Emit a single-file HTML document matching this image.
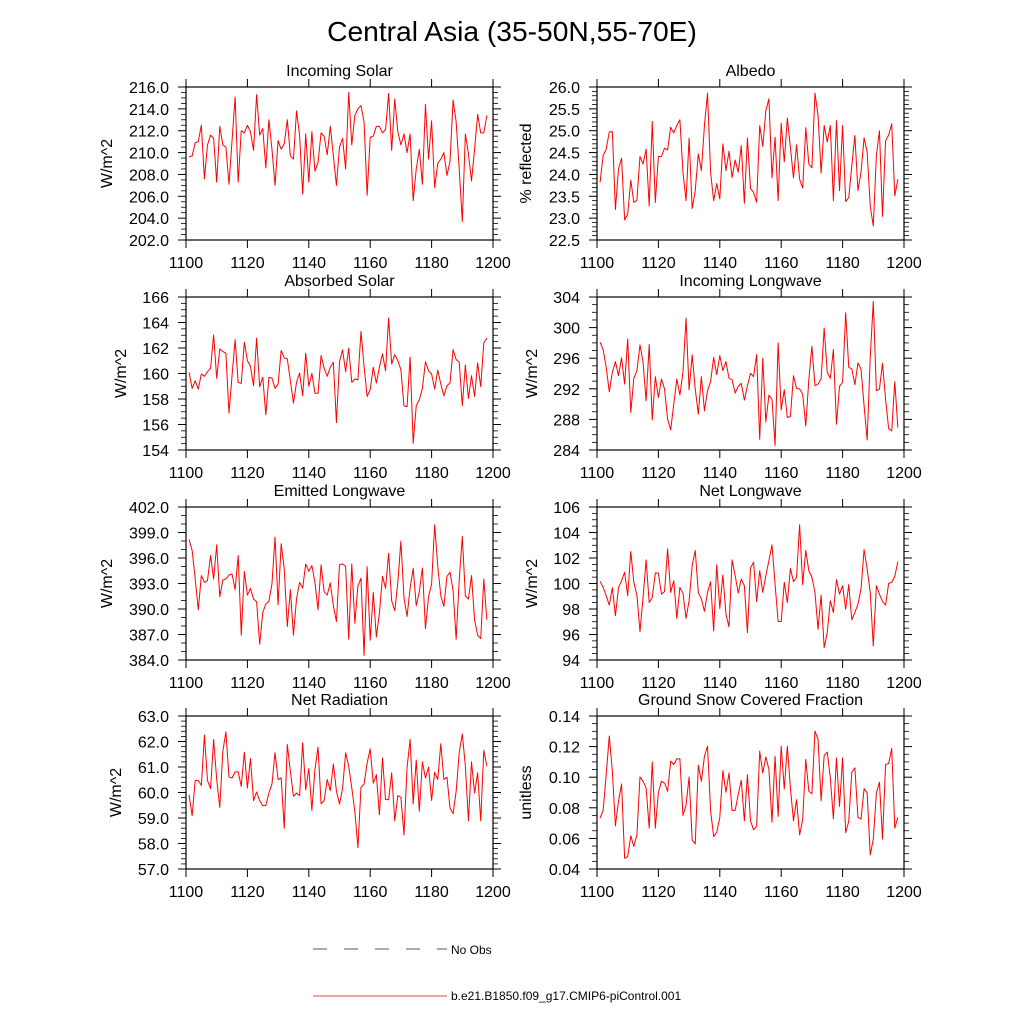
<!DOCTYPE html>
<html><head><meta charset="utf-8"><style>
html,body{margin:0;padding:0;background:#fff;}
svg{display:block;font-family:"Liberation Sans",sans-serif;}
</style></head><body>
<svg id="chart" width="1024" height="1024" viewBox="0 0 1024 1024" xmlns="http://www.w3.org/2000/svg">
<text x="512" y="41" text-anchor="middle" font-size="28.2">Central Asia (35-50N,55-70E)</text>
<g>
<line x1="313" y1="949" x2="447" y2="949" stroke="#555" stroke-width="1" stroke-dasharray="14,17"/>
<text x="451" y="954" font-size="12">No Obs</text>
<line x1="313" y1="996" x2="447" y2="996" stroke="#e00" stroke-width="0.8"/>
<text x="451" y="1000" font-size="12">b.e21.B1850.f09_g17.CMIP6-piControl.001</text>
</g>
</svg>
<script>
const startYear = 1101;
const xTicks = [1100,1120,1140,1160,1180,1200];
const incomingSolar = [209.6,209.7,210.9,211.0,212.5,207.6,210.7,211.6,211.3,207.3,212.4,210.7,210.5,207.1,211.1,215.1,207.3,212.0,211.8,212.5,211.9,210.2,215.3,211.6,212.2,208.6,213.0,210.3,207.0,211.1,210.3,210.8,213.0,209.7,209.4,213.8,211.6,206.2,211.7,207.3,211.9,208.3,209.1,211.8,211.5,209.8,212.4,209.7,207.0,210.5,211.3,208.5,215.5,210.7,213.4,214.0,214.3,212.8,206.1,211.4,211.5,212.4,212.4,211.8,212.1,215.4,210.2,214.9,211.9,210.7,211.7,210.0,211.7,205.6,208.5,210.3,207.1,214.4,209.4,212.9,206.8,209.0,209.4,210.0,207.9,209.2,214.8,212.8,208.5,203.7,211.7,209.9,207.4,210.3,213.5,211.8,211.8,213.4];
const albedo = [23.82,24.43,24.58,24.97,24.98,23.20,24.12,24.37,22.96,23.09,23.87,23.36,23.41,24.41,24.24,24.58,23.28,25.21,23.36,24.41,24.41,24.60,24.56,25.08,24.95,25.12,25.25,24.05,23.40,24.83,23.22,23.63,24.47,24.09,25.12,25.86,24.05,23.40,23.79,23.44,24.70,24.09,24.53,23.93,24.33,24.05,24.66,23.34,24.83,23.68,23.59,23.36,25.12,24.64,25.46,25.73,23.92,24.85,23.40,25.17,24.29,25.29,24.62,23.92,24.68,23.89,23.69,25.07,24.24,24.15,25.86,25.35,24.03,25.12,24.74,25.12,23.40,25.23,23.63,25.12,23.38,23.47,24.20,24.89,23.63,24.05,24.84,24.51,23.28,22.82,24.43,25.00,23.04,24.77,24.90,25.16,23.51,23.89];
const absorbedSolar = [160.09,158.83,159.43,158.78,159.96,159.78,160.14,160.41,163.03,159.62,161.93,161.72,161.59,156.89,159.83,162.66,159.30,159.22,162.45,161.01,160.56,159.04,162.77,158.96,159.70,156.76,159.70,159.64,158.83,159.17,161.80,161.22,161.14,159.43,157.68,159.30,160.04,158.25,161.59,158.99,160.01,158.46,158.44,161.40,160.41,159.78,160.49,160.88,156.15,160.93,161.85,160.14,161.98,159.30,159.57,159.51,163.30,160.56,158.20,158.73,160.49,159.25,160.49,161.54,160.22,164.35,160.75,161.48,161.01,160.30,157.47,157.39,161.27,154.52,157.47,157.94,158.83,160.93,160.22,159.96,158.78,160.27,159.17,158.25,159.04,159.25,161.88,161.09,160.88,157.47,160.67,158.04,159.83,158.20,160.83,158.96,162.40,162.77];
const incomingLW = [298.09,297.13,294.81,291.61,294.15,295.55,293.72,296.04,292.62,298.53,288.90,293.37,294.37,297.74,295.47,290.43,297.79,287.94,293.58,290.87,293.28,291.97,288.03,286.63,289.99,293.28,291.18,294.15,301.24,291.88,296.43,291.97,288.68,293.58,289.12,291.75,292.93,296.12,293.85,296.34,294.37,295.55,293.37,293.19,291.44,292.32,292.71,290.52,292.40,294.02,293.58,296.47,285.40,295.99,287.68,291.18,290.65,284.61,298.00,289.25,291.88,288.25,288.38,293.72,292.05,291.97,291.31,287.15,293.19,297.57,292.40,292.62,293.28,299.93,294.15,293.37,297.13,287.37,292.32,292.84,301.94,294.81,294.59,292.53,295.38,294.59,289.78,285.31,296.12,303.43,291.75,291.97,295.33,290.65,286.80,286.49,292.93,286.93];
const emittedLW = [398.18,396.88,393.53,389.91,393.93,393.14,393.34,396.29,393.53,397.55,391.44,393.41,393.53,394.00,394.12,392.27,396.29,386.92,394.40,391.64,392.43,391.17,390.85,385.85,389.59,390.58,390.89,392.94,398.46,390.50,397.67,394.71,387.94,392.27,386.92,391.17,393.14,392.47,395.30,394.44,395.11,393.14,389.91,395.19,392.04,391.64,393.06,390.38,388.53,395.19,395.30,395.03,386.44,395.30,388.33,392.74,393.61,384.55,394.99,386.32,391.96,386.72,389.48,393.85,392.43,396.56,390.97,389.79,393.14,397.98,391.37,389.12,392.43,394.79,390.38,392.04,394.83,387.70,391.44,392.94,399.91,395.03,391.56,390.30,393.85,394.32,392.15,386.44,393.45,398.53,391.56,391.17,393.93,388.73,386.92,386.52,393.53,388.73];
const netLW = [100.17,99.70,99.04,98.31,99.67,97.47,99.67,100.22,100.88,99.04,102.51,100.09,99.09,96.23,98.91,101.85,98.51,98.91,100.83,100.80,99.17,99.36,102.72,99.30,100.22,97.26,99.70,99.25,97.26,98.65,101.40,102.59,99.30,98.78,97.81,99.30,100.14,96.28,101.46,98.04,100.67,97.60,96.60,101.85,100.62,99.25,100.35,99.83,96.15,101.22,101.67,98.57,101.01,99.30,100.62,101.80,103.03,99.96,97.02,97.02,100.09,98.51,101.19,100.14,100.49,104.61,99.91,102.59,101.01,100.49,99.30,96.41,99.09,94.97,96.15,98.65,97.73,100.30,99.17,99.83,97.99,99.91,97.15,97.73,98.38,99.57,102.66,101.14,99.30,95.10,99.83,99.17,98.59,98.31,100.01,100.09,100.56,101.72];
const netRad = [59.91,59.09,60.47,60.47,60.28,62.25,60.47,60.15,62.08,60.51,59.42,61.62,62.38,60.61,60.57,60.81,60.81,60.24,61.58,60.18,61.33,59.68,60.02,59.68,59.48,59.49,59.98,60.33,61.56,60.51,60.57,58.60,61.88,60.83,59.85,59.98,59.88,61.95,60.11,60.94,59.30,60.90,61.78,59.56,59.68,60.51,60.07,61.12,60.05,59.55,60.15,61.56,61.03,60.18,59.26,57.84,60.20,60.33,61.16,61.71,60.37,60.70,59.13,61.36,59.72,59.72,60.77,58.89,59.88,59.81,58.34,60.97,62.08,59.55,61.27,59.26,61.20,60.57,60.99,59.69,60.79,60.51,61.91,60.51,60.60,59.39,59.17,60.05,61.56,62.30,61.03,58.89,61.20,59.98,60.77,58.89,61.65,61.03];
const snowFrac = [0.0733,0.0783,0.1017,0.1269,0.1039,0.0682,0.0842,0.0956,0.0470,0.0481,0.0617,0.0547,0.0623,0.1002,0.0973,0.0930,0.0667,0.1100,0.0667,0.0901,0.0973,0.0962,0.0908,0.1105,0.1083,0.1120,0.1120,0.0750,0.0816,0.1002,0.0590,0.0564,0.1078,0.0973,0.1137,0.1203,0.0781,0.0612,0.0641,0.0737,0.1043,0.0901,0.1028,0.0783,0.0783,0.0886,0.0980,0.0715,0.1017,0.0715,0.0656,0.0678,0.1170,0.1028,0.1133,0.1050,0.0706,0.1137,0.0744,0.1203,0.0923,0.1203,0.0930,0.0715,0.0853,0.0623,0.0722,0.1116,0.0908,0.0892,0.1302,0.1247,0.0846,0.1142,0.1164,0.0995,0.0728,0.1126,0.0809,0.1126,0.0638,0.0711,0.1032,0.1061,0.0737,0.0726,0.0925,0.0897,0.0492,0.0595,0.0897,0.0967,0.0595,0.1083,0.1089,0.1188,0.0667,0.0737];
const yTicks1 = ["202.0","204.0","206.0","208.0","210.0","212.0","214.0","216.0"];
const yTicks2 = ["22.5","23.0","23.5","24.0","24.5","25.0","25.5","26.0"];
const yTicks3 = ["154","156","158","160","162","164","166"];
const yTicks4 = ["284","288","292","296","300","304"];
const yTicks5 = ["384.0","387.0","390.0","393.0","396.0","399.0","402.0"];
const yTicks6 = ["94","96","98","100","102","104","106"];
const yTicks7 = ["57.0","58.0","59.0","60.0","61.0","62.0","63.0"];
const yTicks8 = ["0.04","0.06","0.08","0.10","0.12","0.14"];

const NS = "http://www.w3.org/2000/svg";
const svg = document.getElementById('chart');
function mk(tag, attrs, parent){const e=document.createElementNS(NS,tag);for(const k in attrs)e.setAttribute(k,attrs[k]);parent.appendChild(e);return e;}

const panels = [
 {name:'incoming-solar',title:'Incoming Solar',ylab:'W/m^2',data:incomingSolar,ticks:yTicks1,minor:4,x0:186,x1:493,y0:87,y1:240,lx:112},
 {name:'albedo',title:'Albedo',ylab:'% reflected',data:albedo,ticks:yTicks2,minor:5,x0:597,x1:904,y0:87,y1:240,lx:531},
 {name:'absorbed-solar',title:'Absorbed Solar',ylab:'W/m^2',data:absorbedSolar,ticks:yTicks3,minor:4,x0:186,x1:493,y0:297,y1:450,lx:126},
 {name:'incoming-longwave',title:'Incoming Longwave',ylab:'W/m^2',data:incomingLW,ticks:yTicks4,minor:4,x0:597,x1:904,y0:297,y1:450,lx:537},
 {name:'emitted-longwave',title:'Emitted Longwave',ylab:'W/m^2',data:emittedLW,ticks:yTicks5,minor:3,x0:186,x1:493,y0:507,y1:660,lx:112},
 {name:'net-longwave',title:'Net Longwave',ylab:'W/m^2',data:netLW,ticks:yTicks6,minor:4,x0:597,x1:904,y0:507,y1:660,lx:537},
 {name:'net-radiation',title:'Net Radiation',ylab:'W/m^2',data:netRad,ticks:yTicks7,minor:5,x0:186,x1:493,y0:716,y1:869,lx:121},
 {name:'snow-fraction',title:'Ground Snow Covered Fraction',ylab:'unitless',data:snowFrac,ticks:yTicks8,minor:4,x0:597,x1:904,y0:716,y1:869,lx:531}
];

panels.forEach(p=>{
 const g = mk('g',{},svg);
 
 
 const ymin=parseFloat(p.ticks[0]), ymax=parseFloat(p.ticks[p.ticks.length-1]);
 const xs = v => p.x0 + (v-1100)/100*(p.x1-p.x0);
 const ys = v => p.y1 - (v-ymin)/(ymax-ymin)*(p.y1-p.y0);
 const t = mk('text',{x:(p.x0+p.x1)/2,y:p.y0-11,'text-anchor':'middle','font-size':16},g);
 t.textContent = p.title;
 
 
 const yl = mk('text',{x:p.lx,y:(p.y0+p.y1)/2,'text-anchor':'middle','font-size':16,transform:'rotate(-90 '+p.lx+' '+(p.y0+p.y1)/2+')'},g);
 yl.textContent = p.ylab;
 
 
 const step=(ymax-ymin)/(p.ticks.length-1);
 p.ticks.forEach((lab,i)=>{
  const v=parseFloat(lab), y=ys(v);
  mk('line',{x1:p.x0,y1:y,x2:p.x0-8,y2:y,stroke:'#000','stroke-width':1},g);
  mk('line',{x1:p.x1,y1:y,x2:p.x1+8,y2:y,stroke:'#000','stroke-width':1},g);
  const tl = mk('text',{x:p.x0-17,y:y+6,'text-anchor':'end','font-size':16},g);
  tl.textContent = lab;
  
  
  if(i<p.ticks.length-1){
   for(let k=1;k<p.minor;k++){
    const ym=ys(v+step*k/p.minor);
    mk('line',{x1:p.x0,y1:ym,x2:p.x0-5,y2:ym,stroke:'#000','stroke-width':0.8},g);
    mk('line',{x1:p.x1,y1:ym,x2:p.x1+5,y2:ym,stroke:'#000','stroke-width':0.8},g);
   }
  }
 });
 xTicks.forEach(v=>{
  const x=xs(v);
  mk('line',{x1:x,y1:p.y1,x2:x,y2:p.y1+8,stroke:'#000','stroke-width':1},g);
  mk('line',{x1:x,y1:p.y0,x2:x,y2:p.y0-8,stroke:'#000','stroke-width':1},g);
  const xl = mk('text',{x:x,y:p.y1+28,'text-anchor':'middle','font-size':16},g);
  xl.textContent = String(v);
  
  
 });
 const box = mk('rect',{x:p.x0,y:p.y0,width:p.x1-p.x0,height:p.y1-p.y0,fill:'none',stroke:'#000','stroke-width':1.2},g);
 
 
 const pts = p.data.map((v,i)=>xs(startYear+i).toFixed(2)+','+ys(v).toFixed(2)).join(' ');
 const line = mk('polyline',{points:pts,fill:'none',stroke:'#f00','stroke-width':1,'stroke-linejoin':'round'},g);
 
 
});
</script>
</body></html>
